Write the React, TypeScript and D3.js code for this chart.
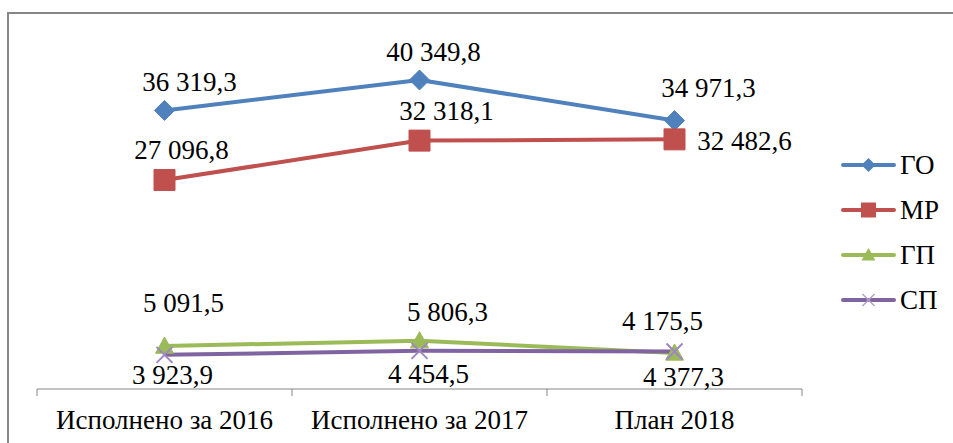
import React, { useEffect, useRef } from "react";
import * as d3 from "d3";

const categories = ["Исполнено за 2016", "Исполнено за 2017", "План 2018"];
const seriesNames = ["ГО", "МР", "ГП", "СП"];
const valuesGO = [36319.3, 40349.8, 34971.3];
const valuesMR = [27096.8, 32318.1, 32482.6];
const valuesGP = [5091.5, 5806.3, 4175.5];
const valuesSP = [3923.9, 4454.5, 4377.3];

const colors = ["#4F81BD", "#C0504D", "#9BBB59", "#8064A2"];
const markers = ["diamond", "square", "triangle", "cross"];
// label offsets (dx, dy of text center relative to point)
const labelOffsets = [
  [[25, -29], [14, -28], [34, -33]],
  [[17, -30], [27, -30], [70, 1]],
  [[19, -44], [28, -29], [-12, -32]],
  [[8, 20], [9, 23], [9, 25]],
];

const W = 953;
const H = 443;
const TEXT_STYLE = 'font-family: "Liberation Serif", Tinos, "Times New Roman", serif; font-size: 27px';

function markerPath(type: string, s: number): string {
  if (type === "diamond") return `M0,${-s}L${s},0L0,${s}L${-s},0Z`;
  if (type === "square") return `M${-s},${-s}H${s}V${s}H${-s}Z`;
  if (type === "triangle") return `M0,${-s}L${s},${s * 0.8}L${-s},${s * 0.8}Z`;
  return `M${-s},${-s}L${s},${s}M${-s},${s}L${s},${-s}`;
}

export default function App() {
  const ref = useRef<SVGSVGElement>(null);
  useEffect(() => {
    const svg = d3.select(ref.current);
    svg.selectAll("*").remove();
    const all = [valuesGO, valuesMR, valuesGP, valuesSP];
    const loc = d3.formatLocale({ decimal: ",", thousands: "\u00a0", grouping: [3], currency: ["", ""] });
    const fmt = loc.format(",.1f");

    const x = d3.scaleBand<string>().domain(categories).range([37, 802]);
    const y = d3.scaleLinear().domain([-600, 45000]).range([389, 44.9]);
    const cx = (c: string) => (x(c) as number) + x.bandwidth() / 2;

    svg.append("rect").attr("x", 8).attr("y", 13).attr("width", 1000).attr("height", 1000)
      .attr("fill", "#fff").attr("stroke", "#868686").attr("stroke-width", 2);

    const txt = (sel: any) => sel.attr("style", TEXT_STYLE).attr("fill", "#000");

    // axis
    const ax = svg.append("g");
    ax.append("line").attr("x1", 37).attr("x2", 802).attr("y1", 389).attr("y2", 389)
      .attr("stroke", "#868686").attr("stroke-width", 1);
    const bounds = categories.map((c) => x(c) as number).concat([802]);
    bounds.forEach((b) => {
      ax.append("line").attr("x1", b).attr("x2", b).attr("y1", 389).attr("y2", 396)
        .attr("stroke", "#868686").attr("stroke-width", 1);
    });
    categories.forEach((c) => {
      ax.append("text").attr("x", cx(c)).attr("y", 420).attr("dy", "0.35em").attr("text-anchor", "middle")
        .call(txt).text(c);
    });

    const line = d3.line<number>().x((_, i) => cx(categories[i])).y((v) => y(v));
    const msize = [10, 10.5, 9, 8];

    all.forEach((vals, si) => {
      svg.append("path").attr("d", line(vals) as string).attr("fill", "none")
        .attr("stroke", colors[si]).attr("stroke-width", 4).attr("stroke-linejoin", "round");
    });
    all.forEach((vals, si) => {
      vals.forEach((v, i) => {
        const px = cx(categories[i]);
        const py = y(v);
        const m = svg.append("path").attr("d", markerPath(markers[si], msize[si]))
          .attr("transform", `translate(${px},${py})`);
        if (markers[si] === "cross") m.attr("fill", "none").attr("stroke", "#9F86C0").attr("stroke-width", 2);
        else m.attr("fill", colors[si]).attr("stroke", colors[si]).attr("stroke-width", 1);
      });
    });
    all.forEach((vals, si) => {
      vals.forEach((v, i) => {
        const [dx, dy] = labelOffsets[si][i];
        svg.append("text").attr("x", cx(categories[i]) + dx).attr("y", y(v) + dy)
          .attr("dy", "0.35em").attr("text-anchor", "middle")
          .call(txt).text(fmt(v));
      });
    });

    // legend
    const lg = svg.append("g");
    const lsize = [7, 7.5, 7, 6];
    seriesNames.forEach((n, si) => {
      const ly = 165 + si * 45;
      lg.append("line").attr("x1", 843).attr("x2", 894).attr("y1", ly).attr("y2", ly)
        .attr("stroke", colors[si]).attr("stroke-width", 4).attr("stroke-linecap", "round");
      const m = lg.append("path").attr("d", markerPath(markers[si], lsize[si]))
        .attr("transform", `translate(868.5,${ly})`);
      if (markers[si] === "cross") m.attr("fill", "none").attr("stroke", "#B3A2CC").attr("stroke-width", 1.5);
      else m.attr("fill", colors[si]);
      lg.append("text").attr("x", 900).attr("y", ly).attr("dy", "0.35em")
        .call(txt).text(n);
    });
  }, []);
  return (
    <svg ref={ref} width={W} height={H} style={{ position: "absolute", left: 0, top: 0, background: "#fff" }} />
  );
}
